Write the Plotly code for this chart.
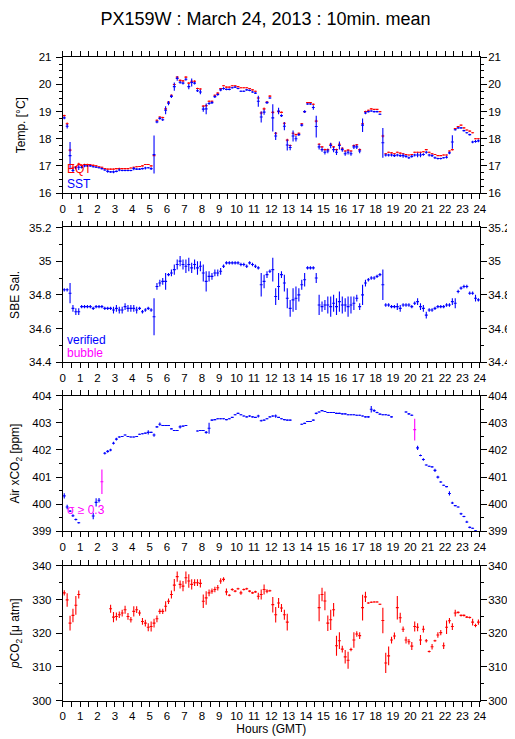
import plotly.graph_objects as go

# ---- time axis: 10-minute means (hour centres) ----
hours = [(i + 0.5) / 6 for i in range(144)]
N = None

# ---- Panel 1: temperatures ----
sst = [
    18.77, 18.46, 17.38, 16.83, 16.93, 16.95,
    16.95, 17.00, 17.00, 17.00, 16.97, 16.95,
    16.93, 16.90, 16.85, 16.80, 16.78, 16.78,
    16.80, 16.85, 16.83, 16.83, 16.83, 16.83,
    16.90, 16.88, 16.88, 16.90, 16.92, 16.93,
    16.90, 17.42, 18.62, 18.75, 18.70, 19.05,
    19.31, 19.56, 19.92, 20.22, 20.08, 20.05,
    20.19, 19.92, 20.07, 20.05, 19.77, 19.72,
    19.09, 19.10, 19.30, 19.33, 19.55, 19.63,
    19.80, 19.85, 19.82, 19.82, 19.88, 19.90,
    19.85, 19.75, 19.75, 19.80, 19.78, 19.72,
    19.68, 19.38, 18.80, 18.98, 19.33, 19.50,
    18.77, 18.10, 19.02, 18.85, 18.46, 17.77,
    17.68, 18.10, 18.00, 18.15, 18.50, 19.00,
    19.28, 19.28, 19.15, 18.45, 17.70, 17.60,
    17.50, 17.55, 17.75, 17.60, 17.50, 17.75,
    17.60, 17.45, 17.50, 17.45, 17.70, 17.70,
    17.55, 18.50, 18.95, 19.00, 19.02, 19.00,
    19.00, 18.90, 17.85, 17.40, 17.40, 17.40,
    17.38, 17.40, 17.38, 17.38, 17.35, 17.30,
    17.35, 17.40, 17.40, 17.40, 17.42, 17.50,
    17.40, 17.38, 17.30, 17.27, 17.27, 17.30,
    17.32, 17.48, 17.88, 18.33, 18.40, 18.40,
    18.30, 18.22, 18.15, 17.88, 17.90, 17.92,
]
sst_err = [
    0.05, 0.08, 0.50, 0.08, 0.05, 0.10,
    0.05, 0.05, 0.03, 0.03, 0.03, 0.03,
    0.03, 0.03, 0.03, 0.05, 0.03, 0.05,
    0.03, 0.05, 0.03, 0.03, 0.03, 0.03,
    0.06, 0.03, 0.03, 0.03, 0.05, 0.03,
    0.05, 0.70, 0.05, 0.05, 0.05, 0.15,
    0.08, 0.06, 0.15, 0.08, 0.05, 0.05,
    0.05, 0.10, 0.15, 0.05, 0.05, 0.08,
    0.10, 0.20, 0.05, 0.05, 0.05, 0.05,
    0.05, 0.05, 0.03, 0.03, 0.03, 0.03,
    0.03, 0.03, 0.03, 0.03, 0.03, 0.03,
    0.03, 0.20, 0.20, 0.10, 0.05, 0.03,
    0.50, 0.15, 0.12, 0.05, 0.15, 0.20,
    0.10, 0.20, 0.10, 0.05, 0.05, 0.05,
    0.03, 0.03, 0.08, 0.40, 0.10, 0.08,
    0.08, 0.08, 0.10, 0.10, 0.10, 0.15,
    0.08, 0.08, 0.08, 0.08, 0.08, 0.08,
    0.08, 0.25, 0.05, 0.03, 0.03, 0.03,
    0.03, 0.03, 0.55, 0.05, 0.05, 0.05,
    0.05, 0.05, 0.05, 0.08, 0.05, 0.05,
    0.05, 0.05, 0.08, 0.08, 0.05, 0.05,
    0.05, 0.05, 0.05, 0.03, 0.03, 0.03,
    0.05, 0.05, 0.25, 0.03, 0.03, 0.03,
    0.03, 0.03, 0.03, 0.05, 0.05, 0.05,
]
eqt = [
    18.85, 18.55, 17.58, 16.95, 16.97, 17.07,
    17.02, 17.05, 17.05, 17.03, 17.02, 17.00,
    16.97, 16.95, 16.90, 16.88, 16.88, 16.88,
    16.90, 16.90, 16.90, 16.90, 16.90, 16.92,
    16.95, 16.97, 16.98, 17.00, 17.05, 17.05,
    17.00, 17.38, 18.68, 18.80, 18.78, 19.10,
    19.35, 19.60, 20.00, 20.27, 20.15, 20.13,
    20.27, 20.05, 20.12, 20.12, 19.85, 19.83,
    19.20, 19.22, 19.38, 19.38, 19.60, 19.68,
    19.85, 19.95, 19.90, 19.90, 19.95, 19.95,
    19.92, 19.88, 19.88, 19.88, 19.85, 19.80,
    19.75, 19.50, 18.95, 19.10, 19.35, 19.57,
    18.97, 18.20, 19.00, 18.97, 18.57, 17.95,
    17.75, 18.20, 18.15, 18.20, 18.55, 19.00,
    19.33, 19.33, 19.27, 18.65, 17.80, 17.70,
    17.60, 17.60, 17.80, 17.70, 17.60, 17.80,
    17.65, 17.55, 17.58, 17.55, 17.75, 17.78,
    17.60, 18.55, 19.00, 19.05, 19.10, 19.08,
    19.08, 19.00, 18.10, 17.45, 17.50, 17.48,
    17.45, 17.50, 17.47, 17.45, 17.42, 17.40,
    17.42, 17.50, 17.50, 17.50, 17.52, 17.60,
    17.50, 17.45, 17.42, 17.38, 17.38, 17.40,
    17.40, 17.55, 17.60, 18.38, 18.45, 18.50,
    18.40, 18.32, 18.28, 18.22, 18.00, 18.00,
]
eqt_err = [
    0.03, 0.05, 0.05, 0.10, 0.03, 0.05,
    0.03, 0.03, 0.03, 0.03, 0.03, 0.03,
    0.02, 0.02, 0.02, 0.02, 0.02, 0.02,
    0.02, 0.03, 0.02, 0.02, 0.02, 0.02,
    0.02, 0.02, 0.02, 0.02, 0.02, 0.02,
    0.02, 0.02, 0.03, 0.03, 0.03, 0.03,
    0.03, 0.03, 0.03, 0.03, 0.03, 0.03,
    0.03, 0.03, 0.03, 0.03, 0.03, 0.03,
    0.03, 0.03, 0.03, 0.03, 0.03, 0.03,
    0.02, 0.02, 0.02, 0.02, 0.02, 0.02,
    0.02, 0.02, 0.02, 0.02, 0.02, 0.02,
    0.02, 0.03, 0.05, 0.05, 0.03, 0.03,
    0.05, 0.05, 0.03, 0.03, 0.05, 0.05,
    0.03, 0.03, 0.03, 0.03, 0.03, 0.03,
    0.02, 0.02, 0.03, 0.05, 0.03, 0.03,
    0.03, 0.03, 0.03, 0.03, 0.03, 0.03,
    0.03, 0.03, 0.03, 0.03, 0.03, 0.03,
    0.03, 0.05, 0.03, 0.02, 0.02, 0.02,
    0.02, 0.02, 0.05, 0.02, 0.02, 0.02,
    0.02, 0.02, 0.02, 0.02, 0.02, 0.02,
    0.02, 0.02, 0.02, 0.02, 0.02, 0.02,
    0.02, 0.02, 0.02, 0.02, 0.02, 0.02,
    0.02, 0.02, 0.03, 0.02, 0.02, 0.02,
    0.02, 0.02, 0.02, 0.02, 0.02, 0.02,
]

# ---- Panel 2: salinity ----
sal = [
    34.83, 34.83, 34.81, 34.72, 34.70, 34.70,
    34.73, 34.73, 34.73, 34.73, 34.72, 34.73,
    34.73, 34.73, 34.72, 34.72, 34.72, 34.71,
    34.72, 34.71, 34.71, 34.73, 34.72, 34.72,
    34.72, 34.71, 34.72, 34.70, 34.71, 34.72,
    34.71, 34.67, 34.85, 34.87, 34.88, 34.88,
    34.92, 34.93, 34.95, 34.98, 35.00, 34.98,
    34.97, 34.98, 34.96, 34.98, 34.96, 34.97,
    34.93, 34.88, 34.91, 34.91, 34.93, 34.93,
    34.94, 34.97, 34.99, 34.99, 34.99, 34.99,
    34.99, 34.98, 34.98, 34.97, 34.99, 34.98,
    34.97, 34.96, 34.86, 34.88, 34.92, 34.94,
    34.95, 34.79, 34.85, 34.92, 34.87, 34.78,
    34.72, 34.77, 34.78, 34.80, 34.86, 34.89,
    34.96, 34.96, 34.96, 34.90, 34.74, 34.73,
    34.74, 34.74, 34.73, 34.75, 34.73, 34.76,
    34.74, 34.74, 34.73, 34.74, 34.75, 34.78,
    34.73, 34.80, 34.87, 34.89, 34.90, 34.90,
    34.91, 34.92, 34.86, 34.74, 34.74, 34.73,
    34.73, 34.73, 34.72, 34.74, 34.74, 34.74,
    34.73, 34.75, 34.76, 34.73, 34.72, 34.68,
    34.71, 34.71, 34.72, 34.73, 34.73, 34.73,
    34.74, 34.74, 34.76, 34.75, 34.82, 34.84,
    34.85, 34.85, 34.81, 34.81, 34.78, 34.77,
]
sal_err = [
    0.01, 0.01, 0.06, 0.02, 0.02, 0.02,
    0.01, 0.01, 0.01, 0.01, 0.01, 0.01,
    0.01, 0.01, 0.01, 0.01, 0.01, 0.02,
    0.02, 0.02, 0.02, 0.02, 0.02, 0.02,
    0.02, 0.02, 0.01, 0.01, 0.01, 0.01,
    0.01, 0.11, 0.02, 0.02, 0.02, 0.05,
    0.01, 0.02, 0.03, 0.03, 0.03, 0.03,
    0.04, 0.04, 0.03, 0.03, 0.04, 0.03,
    0.05, 0.06, 0.03, 0.02, 0.02, 0.02,
    0.02, 0.01, 0.01, 0.01, 0.01, 0.01,
    0.01, 0.01, 0.01, 0.01, 0.01, 0.01,
    0.01, 0.01, 0.07, 0.04, 0.02, 0.01,
    0.07, 0.05, 0.08, 0.02, 0.05, 0.06,
    0.05, 0.07, 0.07, 0.04, 0.03, 0.04,
    0.01, 0.01, 0.01, 0.03, 0.06, 0.03,
    0.03, 0.05, 0.06, 0.05, 0.05, 0.06,
    0.05, 0.04, 0.06, 0.05, 0.04, 0.02,
    0.02, 0.06, 0.02, 0.01, 0.01, 0.01,
    0.01, 0.01, 0.09, 0.01, 0.01, 0.01,
    0.01, 0.02, 0.02, 0.01, 0.01, 0.01,
    0.01, 0.01, 0.02, 0.02, 0.02, 0.02,
    0.01, 0.01, 0.01, 0.01, 0.01, 0.01,
    0.01, 0.01, 0.02, 0.03, 0.01, 0.01,
    0.01, 0.01, 0.01, 0.01, 0.02, 0.01,
]

# ---- Panel 3: atmospheric xCO2 ----
xco2 = [
    400.31, 399.90, 399.75, 399.58, 399.44, 399.32,
    N, N, N, N, 399.57, 400.07,
    400.15, 400.83, 401.88, 401.95, 402.00, 402.25,
    402.40, 402.48, 402.50, 402.55, 402.50, 402.48,
    402.48, 402.50, 402.58, 402.60, 402.62, 402.65,
    402.65, 402.55, 402.85, 402.95, 402.90, 402.90,
    402.90, 402.78, 402.72, 402.72, 402.85, 402.88,
    402.90, N, N, N, 402.70, 402.72,
    402.72, 402.65, 402.80, 403.10, 403.12, 403.15,
    403.15, 403.15, 403.12, 403.15, 403.20, 403.30,
    403.35, 403.30, 403.25, 403.22, 403.25, 403.22,
    403.20, 403.25, 403.08, 403.10, 403.15, 403.22,
    403.25, 403.25, 403.20, 403.15, 403.12, 403.10,
    403.10, N, N, N, 402.95, 402.98,
    403.05, 403.05, 403.10, 403.35, 403.40, 403.45,
    403.42, 403.38, 403.38, 403.38, 403.35, 403.35,
    403.33, 403.33, 403.30, 403.30, 403.30, 403.28,
    403.28, 403.25, 403.22, 403.22, 403.50, 403.45,
    403.38, 403.32, 403.30, 403.30, 403.28, 403.22,
    N, N, N, N, 403.40, 403.33,
    403.28, 402.75, 402.08, 401.80, 401.65, 401.45,
    401.40, 401.38, 401.25, 401.00, 400.82, 400.70,
    400.65, 400.40, 400.05, 399.95, 399.90, 399.65,
    399.55, 399.35, 399.15, 399.12, 399.02, 399.00,
]
xco2_err = [
    0.10, 0.08, 0.03, 0.05, 0.04, 0.03,
    0, 0, 0, 0, 0.12, 0.15,
    0.08, 0.45, 0.05, 0.05, 0.05, 0.05,
    0.05, 0.03, 0.02, 0.02, 0.02, 0.02,
    0.02, 0.02, 0.02, 0.02, 0.02, 0.08,
    0.02, 0.06, 0.03, 0.06, 0.02, 0.02,
    0.02, 0.02, 0.02, 0.02, 0.06, 0.02,
    0.02, 0, 0, 0, 0.02, 0.02,
    0.02, 0.05, 0.20, 0.03, 0.02, 0.02,
    0.02, 0.02, 0.02, 0.02, 0.02, 0.02,
    0.02, 0.02, 0.02, 0.02, 0.03, 0.02,
    0.02, 0.05, 0.03, 0.02, 0.02, 0.02,
    0.03, 0.06, 0.02, 0.02, 0.02, 0.02,
    0.02, 0, 0, 0, 0.02, 0.02,
    0.02, 0.02, 0.02, 0.03, 0.02, 0.02,
    0.02, 0.02, 0.02, 0.02, 0.02, 0.02,
    0.02, 0.02, 0.02, 0.02, 0.02, 0.02,
    0.02, 0.02, 0.02, 0.03, 0.12, 0.05,
    0.03, 0.02, 0.02, 0.02, 0.02, 0.02,
    0, 0, 0, 0, 0.03, 0.03,
    0.03, 0.40, 0.08, 0.03, 0.05, 0.02,
    0.02, 0.02, 0.06, 0.05, 0.03, 0.02,
    0.02, 0.08, 0.04, 0.02, 0.02, 0.04,
    0.03, 0.04, 0.03, 0.02, 0.02, 0.02,
]

# ---- Panel 4: seawater pCO2 ----
pco2 = [
    332.0, 329.9, 323.0, 325.3, 328.3, 331.5,
    N, N, N, N, N, N,
    N, N, N, N, 327.3, 324.8,
    325.0, 325.5, 326.0, 327.0, 325.0, 324.0,
    326.5, 327.0, 326.0, 323.5, 323.0, 321.8,
    322.0, 323.0, 324.3, 326.5, 326.5, 328.0,
    329.5, 331.5, 334.3, 336.8, 334.5, 334.0,
    336.5, 335.5, 334.5, 335.0, 335.0, 334.8,
    329.5, 330.5, 332.0, 332.5, 333.0, 333.5,
    335.5, 336.0, 332.3, 331.3, 333.0, 332.5,
    333.2, 332.0, 333.0, 333.2, 332.5, 332.0,
    332.3, 331.0, 331.5, 333.0, 332.5, 332.6,
    328.5, 325.5, 329.0, 327.5, 325.5, 323.3,
    N, N, N, N, N, N,
    N, N, N, N, 327.6, 331.5,
    329.6, 323.0, 324.0, 327.0, 316.3, 317.8,
    315.3, 313.0, 312.0, 315.2, 318.0, 319.8,
    319.3, 327.6, 330.8, 329.0, 329.2, 329.3,
    329.3, 328.6, 323.8, 311.2, 313.3, 318.0,
    319.2, 327.6, 324.6, 321.2, 318.0, 317.5,
    316.2, 322.0, 321.8, 318.0, 321.2, 317.8,
    314.6, 316.0, 317.8, 319.5, 320.2, 316.3,
    321.8, 323.7, 322.0, 326.0, 326.2, 325.3,
    325.3, 324.8, 324.7, 323.3, 322.3, 323.3,
]
pco2_err = [
    0.8, 2.0, 2.2, 2.0, 2.8, 1.2,
    0, 0, 0, 0, 0, 0,
    0, 0, 0, 0, 1.2, 1.5,
    1.2, 1.0, 1.0, 1.2, 1.0, 0.8,
    1.5, 1.0, 0.8, 1.0, 1.0, 1.2,
    1.5, 1.3, 1.0, 0.8, 0.8, 1.5,
    0.8, 1.2, 1.8, 1.5, 1.2, 1.5,
    1.8, 2.0, 1.5, 1.0, 1.0, 1.2,
    2.0, 2.0, 1.0, 0.8, 0.8, 0.8,
    0.8, 0.6, 1.0, 0.3, 0.4, 0.3,
    0.3, 0.6, 0.3, 0.3, 0.3, 0.3,
    0.3, 1.0, 1.5, 1.5, 0.6, 0.3,
    2.3, 2.3, 1.5, 1.2, 1.5, 2.5,
    0, 0, 0, 0, 0, 0,
    0, 0, 0, 0, 4.0, 2.0,
    2.8, 2.3, 3.0, 2.0, 3.0, 2.5,
    1.0, 2.0, 2.5, 0.5, 2.3, 0.8,
    1.0, 3.8, 1.5, 0.2, 0.2, 0.2,
    0.2, 0.2, 3.8, 3.0, 2.8, 1.0,
    1.0, 3.5, 1.5, 0.8, 1.0, 0.8,
    1.2, 1.5, 1.2, 1.5, 1.0, 0.5,
    0.3, 0.8, 0.3, 0.8, 0.8, 1.0,
    2.0, 0.8, 1.0, 1.0, 0.3, 0.3,
    0.3, 0.3, 0.3, 1.0, 0.5, 0.8,
]
flag_idx = [13, 121]  # sigma >= 0.3 air samples

hour_ticks = list(range(0, 25))
x_title = "Hours (GMT)"
main_title = "PX159W : March 24, 2013 : 10min. mean"

BLUE = "#0000ff"
RED = "#ff0000"
MAG = "#ff00ff"
FONT = "Liberation Sans, Arial, sans-serif"

fig = go.Figure()


def add_series(x, y, err, color, xa, ya, half=1 / 12, th=1.1):
    fig.add_trace(go.Scatter(
        x=x, y=y, mode="markers", xaxis=xa, yaxis=ya,
        marker=dict(size=0.1, color=color, opacity=0),
        error_x=dict(type="constant", value=half, width=0, thickness=th, color=color),
        error_y=dict(type="data", array=err, width=0, thickness=th, color=color),
        showlegend=False, hoverinfo="x+y",
    ))


# panel 1
add_series(hours, eqt, eqt_err, RED, "x", "y")
add_series(hours, sst, sst_err, BLUE, "x", "y")
# panel 2
add_series(hours, sal, sal_err, BLUE, "x2", "y2")
# panel 3 (normal vs flagged)
xn = [v if i not in flag_idx else None for i, v in enumerate(xco2)]
xf = [v if i in flag_idx else None for i, v in enumerate(xco2)]
add_series(hours, xn, xco2_err, BLUE, "x3", "y3")
add_series(hours, xf, xco2_err, MAG, "x3", "y3")
# panel 4
add_series(hours, pco2, pco2_err, RED, "x4", "y4")

# dummy traces for right-hand tick-label axes
for k in range(4):
    fig.add_trace(go.Scatter(x=[None], y=[None], xaxis="x" if k == 0 else f"x{k+1}",
                             yaxis=f"y{k+5}", showlegend=False))

XD = [51 / 515, 478 / 515]
H = 739
px = lambda p: 1 - p / H
doms = [(px(182), px(44)), (px(354), px(217)), (px(526), px(388)), (px(698), px(561))]
yranges = [[16, 21], [34.4, 35.2], [399, 404], [300, 340]]
ydt = [1, 0.2, 1, 10]
yminor = [0.25, 0.1, 0.5, 5]
ytitles = ["Temp. [°C]", "SBE Sal.", "Air xCO<sub>2</sub> [ppm]", "<i>p</i>CO<sub>2</sub> [μ atm]"]
ystandoff = [10, 13, 13, 12]

tickfont = dict(family=FONT, size=11.5, color="black")
layout = dict(
    width=515, height=739,
    margin=dict(l=0, r=0, t=0, b=0),
    paper_bgcolor="white", plot_bgcolor="white",
    font=dict(family=FONT, size=11.5, color="black"),
    title=dict(text=main_title, x=0.5, xanchor="center", y=1 - 11 / H, yanchor="middle",
               font=dict(family=FONT, size=18, color="black")),
    showlegend=False,
)
for k in range(4):
    xn_ = "xaxis" if k == 0 else f"xaxis{k+1}"
    yn_ = "yaxis" if k == 0 else f"yaxis{k+1}"
    yid = "y" if k == 0 else f"y{k+1}"
    xid = "x" if k == 0 else f"x{k+1}"
    xa = dict(
        domain=XD, anchor=yid, range=[0, 24], tickmode="array", tickvals=hour_ticks,
        ticktext=[str(h) for h in hour_ticks], ticks="outside", ticklen=5, tickwidth=1,
        tickcolor="black", showline=True, linecolor="black", linewidth=1,
        mirror="allticks", showgrid=False, zeroline=False, tickfont=tickfont,
        minor=dict(tickmode="linear", tick0=0, dtick=0.5, ticks="outside", ticklen=3,
                   tickcolor="black", showgrid=False),
    )
    if k == 3:
        xa["title"] = dict(text=x_title, font=dict(family=FONT, size=12), standoff=0)
    layout[xn_] = xa
    layout[yn_] = dict(
        domain=list(doms[k]), anchor=xid, range=yranges[k], dtick=ydt[k], tick0=yranges[k][0],
        ticks="outside", ticklen=6, tickwidth=1, tickcolor="black", showline=True,
        linecolor="black", linewidth=1, mirror="allticks", showgrid=False, zeroline=False,
        tickfont=tickfont, ticklabelstandoff=2,
        minor=dict(tickmode="linear", tick0=yranges[k][0], dtick=yminor[k], ticks="outside",
                   ticklen=3, tickcolor="black", showgrid=False),
        title=dict(text=ytitles[k], font=dict(family=FONT, size=12), standoff=ystandoff[k]),
    )
    layout[f"yaxis{k+5}"] = dict(
        overlaying=yid, anchor=xid, side="right", range=yranges[k], dtick=ydt[k],
        tick0=yranges[k][0], ticks="outside", ticklen=5, tickcolor="black",
        showline=False, showgrid=False, zeroline=False, tickfont=tickfont,
    )
fig.update_layout(**layout)

ann = [
    dict(text="EQT", x=0.15, y=16.88, xref="x", yref="y", font=dict(color=RED)),
    dict(text="SST", x=0.15, y=16.35, xref="x", yref="y", font=dict(color=BLUE)),
    dict(text="verified", x=0.15, y=34.535, xref="x2", yref="y2", font=dict(color=BLUE)),
    dict(text="bubble", x=0.15, y=34.455, xref="x2", yref="y2", font=dict(color=MAG)),
    dict(text="σ ≥ 0.3", x=0.15, y=399.8, xref="x3", yref="y3", font=dict(color=MAG)),
]
for a in ann:
    a.update(showarrow=False, xanchor="left", yanchor="middle")
    a["font"].update(family=FONT, size=12)
    fig.add_annotation(**a)

fig.write_html("out.html")
